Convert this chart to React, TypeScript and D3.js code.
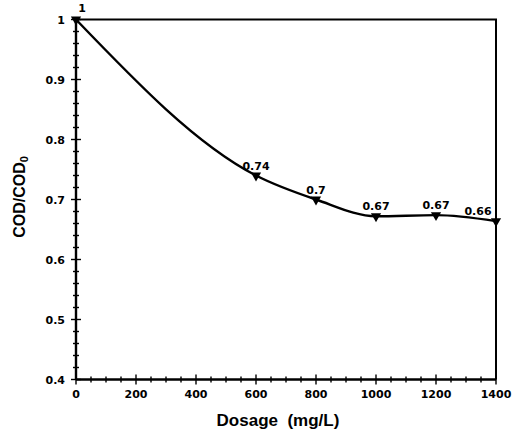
import React, { useEffect, useRef } from "react";
import * as d3 from "d3";

// dosage (mg/L) and COD/COD0
const dosage = [0, 600, 800, 1000, 1200, 1400];
const codRatio = [1, 0.74, 0.7, 0.672, 0.674, 0.664];
const pointLabels = ["1", "0.74", "0.7", "0.67", "0.67", "0.66"];
const xTicks = [0, 200, 400, 600, 800, 1000, 1200, 1400];
const yTicks = [0.4, 0.5, 0.6, 0.7, 0.8, 0.9, 1];

export default function App() {
  const ref = useRef<SVGSVGElement>(null);

  useEffect(() => {
    const svg = d3.select(ref.current);
    svg.selectAll("*").remove();

    const x = d3.scaleLinear().domain([0, 1400]).range([76, 496]);
    const y = d3.scaleLinear().domain([0.4, 1]).range([379.5, 19.5]);
    const font = "'Liberation Sans', Arial, sans-serif";
    const tickFont = "'DejaVu Sans', sans-serif";

    // frame: top and right borders
    svg.append("path")
      .attr("d", `M${x(0)},${y(1)}H${x(1400)}V${y(0.4)}`)
      .attr("fill", "none")
      .attr("stroke", "#000")
      .attr("stroke-width", 2);

    // axes lines
    svg.append("line")
      .attr("x1", x(0)).attr("x2", x(1400))
      .attr("y1", y(0.4)).attr("y2", y(0.4))
      .attr("stroke", "#000").attr("stroke-width", 2.4);
    svg.append("line")
      .attr("x1", x(0)).attr("x2", x(0))
      .attr("y1", y(0.4)).attr("y2", y(1))
      .attr("stroke", "#000").attr("stroke-width", 2.4);

    // minor ticks crossing the axes
    const xMinor = d3.range(0, 1401, 50);
    svg.append("g").selectAll("line").data(xMinor).join("line")
      .attr("x1", (d) => x(d)).attr("x2", (d) => x(d))
      .attr("y1", (d) => y(0.4) - (d % 200 === 0 ? 5 : 3))
      .attr("y2", (d) => y(0.4) + (d % 200 === 0 ? 5 : 3))
      .attr("stroke", "#000").attr("stroke-width", 1.4);

    const yMinor = d3.range(0, 31).map((i) => 0.4 + i * 0.02);
    svg.append("g").selectAll("line").data(yMinor).join("line")
      .attr("y1", (d) => y(d)).attr("y2", (d) => y(d))
      .attr("x1", (d, i) => x(0) - (i % 5 === 0 ? 5 : 3))
      .attr("x2", (d, i) => x(0) + (i % 5 === 0 ? 5 : 3))
      .attr("stroke", "#000").attr("stroke-width", 1.4);

    // tick labels
    svg.append("g").selectAll("text").data(xTicks).join("text")
      .attr("x", (d) => x(d)).attr("y", y(0.4) + 18)
      .attr("text-anchor", "middle")
      .style("font-family", tickFont).style("font-size", "11px").style("font-weight", "bold")
      .text((d) => d);

    svg.append("g").selectAll("text").data(yTicks).join("text")
      .attr("x", 65).attr("y", (d) => y(d) + 4)
      .attr("text-anchor", "end")
      .style("font-family", tickFont).style("font-size", "11px").style("font-weight", "bold")
      .text((d) => d);

    // axis titles
    svg.append("text")
      .attr("x", 278).attr("y", 426)
      .attr("text-anchor", "middle")
      .style("font-family", font).style("font-size", "17px").style("font-weight", "bold")
      .style("white-space", "pre")
      .text("Dosage  (mg/L)");

    const yl = svg.append("text")
      .attr("transform", "translate(25,197) rotate(-90)")
      .attr("text-anchor", "middle")
      .style("font-family", font).style("font-size", "16px").style("font-weight", "bold");
    yl.append("tspan").text("COD/COD");
    yl.append("tspan").attr("dy", 3).style("font-size", "11px").text("0");

    // curve
    const pts = dosage.map((d, i) => [d, codRatio[i]] as [number, number]);
    const line = d3.line<[number, number]>()
      .x((d) => x(d[0])).y((d) => y(d[1]))
      .curve(d3.curveMonotoneX);
    svg.append("path")
      .datum(pts)
      .attr("d", line)
      .attr("fill", "none")
      .attr("stroke", "#000")
      .attr("stroke-width", 2.4);

    // down triangle markers
    const tri = d3.symbol().type(d3.symbolTriangle).size(45);
    svg.append("g").selectAll("path").data(pts).join("path")
      .attr("d", tri)
      .attr("transform", (d) => `translate(${x(d[0])},${y(d[1])}) rotate(180)`)
      .attr("fill", "#000");

    // point labels
    svg.append("g").selectAll("text").data(pts).join("text")
      .attr("x", (d, i) => x(d[0]) + (i === 0 ? 6 : i === pts.length - 1 ? -18 : 0))
      .attr("y", (d, i) => y(d[1]) - (i === 0 ? 8 : 6))
      .attr("text-anchor", "middle")
      .style("font-family", tickFont).style("font-size", "11px").style("font-weight", "bold")
      .text((d, i) => pointLabels[i]);
  }, []);

  return <svg ref={ref} width={513} height={435} style={{ position: "absolute", left: 0, top: 0, background: "#fff" }} />;
}
